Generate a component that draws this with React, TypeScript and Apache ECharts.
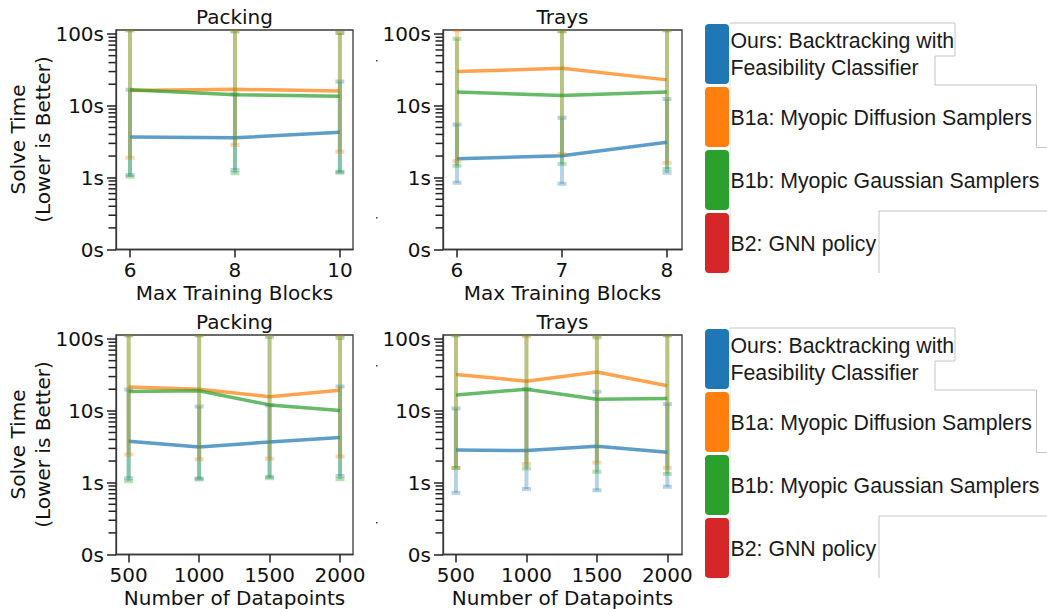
import React, { useEffect, useRef } from "react";
import * as echarts from "echarts";

// ---------- data ----------
const methodNames = [
  "Ours: Backtracking with\nFeasibility Classifier",
  "B1a: Myopic Diffusion Samplers",
  "B1b: Myopic Gaussian Samplers",
  "B2: GNN policy",
];
const methodColors = ["#1f77b4", "#ff7f0e", "#2ca02c", "#d62728"];

const blocksPacking = [6, 8, 10];
const blocksTrays = [6, 7, 8];
const datapoints = [500, 1000, 1500, 2000];

const yTickLabels = ["0s", "1s", "10s", "100s"];

// Packing vs Max Training Blocks
const packBlocksOurs = [3.68, 3.6, 4.28];
const packBlocksOursLow = [1.09, 1.28, 1.21];
const packBlocksOursHigh = [16.7, 14.5, 21.8];
const packBlocksB1a = [16.3, 17.0, 16.1];
const packBlocksB1aLow = [1.9, 2.85, 2.3];
const packBlocksB1aHigh = [115, 111, 103];
const packBlocksB1b = [16.7, 14.3, 13.6];
const packBlocksB1bLow = [1.03, 1.15, 1.17];
const packBlocksB1bHigh = [112, 108, 103];

// Trays vs Max Training Blocks
const traysBlocksOurs = [1.84, 2.02, 3.11];
const traysBlocksOursLow = [0.93, 0.915, 1.17];
const traysBlocksOursHigh = [5.5, 6.85, 12.5];
const traysBlocksB1a = [30.0, 33.4, 23.0];
const traysBlocksB1aLow = [1.71, 2.13, 1.6];
const traysBlocksB1aHigh = [113, 108, 115];
const traysBlocksB1b = [15.6, 13.9, 15.6];
const traysBlocksB1bLow = [1.47, 1.55, 1.32];
const traysBlocksB1bHigh = [85.7, 110, 112];

// Packing vs Number of Datapoints
const packDataOurs = [3.77, 3.15, 3.69, 4.25];
const packDataOursLow = [1.15, 1.14, 1.21, 1.24];
const packDataOursHigh = [19.8, 11.5, 12, 21.9];
const packDataB1a = [21.4, 20.0, 15.7, 19.4];
const packDataB1aLow = [2.46, 2.12, 2.16, 2.31];
const packDataB1aHigh = [115, 115, 115, 111];
const packDataB1b = [18.6, 19.0, 12.1, 10.1];
const packDataB1bLow = [1.05, 1.11, 1.15, 1.12];
const packDataB1bHigh = [112, 112, 107, 103];

// Trays vs Number of Datapoints
const traysDataOurs = [2.86, 2.8, 3.21, 2.65];
const traysDataOursLow = [0.86, 0.912, 0.893, 0.944];
const traysDataOursHigh = [10.8, 20, 18.4, 12.5];
const traysDataB1a = [32.1, 25.9, 34.7, 22.3];
const traysDataB1aLow = [1.6, 1.82, 1.9, 1.6];
const traysDataB1aHigh = [115, 108, 110, 115];
const traysDataB1b = [16.6, 20.0, 14.5, 14.9];
const traysDataB1bLow = [1.6, 1.57, 1.42, 1.32];
const traysDataB1bHigh = [112, 115, 105, 112];

// ---------- helpers ----------
const FONT = "DejaVu Sans";
const LEGEND_FONT = "Liberation Sans";
const YMAX = 3.056;
const symlog = (v: number) => (v <= 1 ? v : 1 + Math.log10(v));
const yMajor = [0, 1, 2, 3];
const yMinor: number[] = [];
for (let d = 0; d < 3; d++) for (let k = 2; k <= 9; k++) yMinor.push(d + Math.log10(k));

const rgba = (hex: string, a: number) => {
  const n = parseInt(hex.slice(1), 16);
  return `rgba(${(n >> 16) & 255},${(n >> 8) & 255},${n & 255},${a})`;
};

type S = { mean: number[]; low: number[]; high: number[] };
const panels = [
  {
    title: "Packing", xName: "Max Training Blocks", xs: blocksPacking, xMin: 5.733, xMax: 10.25,
    box: { left: 116, top: 30, width: 237, height: 219.5 }, yTitle: true,
    series: [
      { mean: packBlocksOurs, low: packBlocksOursLow, high: packBlocksOursHigh },
      { mean: packBlocksB1a, low: packBlocksB1aLow, high: packBlocksB1aHigh },
      { mean: packBlocksB1b, low: packBlocksB1bLow, high: packBlocksB1bHigh },
    ] as S[],
  },
  {
    title: "Trays", xName: "Max Training Blocks", xs: blocksTrays, xMin: 5.867, xMax: 8.143,
    box: { left: 443, top: 30, width: 239, height: 219.5 }, yTitle: false,
    series: [
      { mean: traysBlocksOurs, low: traysBlocksOursLow, high: traysBlocksOursHigh },
      { mean: traysBlocksB1a, low: traysBlocksB1aLow, high: traysBlocksB1aHigh },
      { mean: traysBlocksB1b, low: traysBlocksB1bLow, high: traysBlocksB1bHigh },
    ] as S[],
  },
  {
    title: "Packing", xName: "Number of Datapoints", xs: datapoints, xMin: 410, xMax: 2092,
    box: { left: 116, top: 335, width: 237, height: 219.5 }, yTitle: true,
    series: [
      { mean: packDataOurs, low: packDataOursLow, high: packDataOursHigh },
      { mean: packDataB1a, low: packDataB1aLow, high: packDataB1aHigh },
      { mean: packDataB1b, low: packDataB1bLow, high: packDataB1bHigh },
    ] as S[],
  },
  {
    title: "Trays", xName: "Number of Datapoints", xs: datapoints, xMin: 408, xMax: 2104,
    box: { left: 443, top: 335, width: 239, height: 219.5 }, yTitle: false,
    series: [
      { mean: traysDataOurs, low: traysDataOursLow, high: traysDataOursHigh },
      { mean: traysDataB1a, low: traysDataB1aLow, high: traysDataB1aHigh },
      { mean: traysDataB1b, low: traysDataB1bLow, high: traysDataB1bHigh },
    ] as S[],
  },
];

function buildGraphic(): any[] {
  const graphic: any[] = [];
  panels.forEach((p) => {
    graphic.push({
      type: "text",
      x: p.box.left + p.box.width / 2,
      y: p.box.top - 13,
      style: { text: p.title, font: `20px ${FONT}`, fill: "#111", align: "center", verticalAlign: "middle" },
    });
    if (p.yTitle) {
      graphic.push({
        type: "text",
        x: 30.5,
        y: p.box.top + 109.5,
        rotation: Math.PI / 2,
        style: {
          text: "Solve Time\n(Lower is Better)",
          font: `20px ${FONT}`,
          lineHeight: 25,
          fill: "#111",
          align: "center",
          verticalAlign: "middle",
        },
      });
    }
    // minor ticks of the symlog y axis (axis decoration, same linear map as the axis)
    yMinor.forEach((v) => {
      const y = p.box.top + p.box.height * (1 - v / YMAX);
      graphic.push({
        type: "line",
        shape: { x1: p.box.left - 7.5, y1: y, x2: p.box.left, y2: y },
        style: { stroke: "#222", lineWidth: 1.5 },
      });
    });
  });
  [61, 218, 366, 523].forEach((y) => {
    graphic.push({ type: "rect", shape: { x: 376, y: y - 1, width: 1.6, height: 1.6 }, style: { fill: "#444" } });
  });

  [0, 305].forEach((oy) => {
    const boxTop = [24, 87, 150, 213];
    methodNames.forEach((name, k) => {
      graphic.push({
        type: "rect",
        shape: { x: 705, y: boxTop[k] + oy, width: 24, height: 60, r: 4 },
        style: { fill: methodColors[k] },
      });
      graphic.push({
        type: "text",
        x: 730.5,
        y: boxTop[k] + oy + 30.5,
        style: {
          text: name,
          font: `21.3px ${LEGEND_FONT}`,
          lineHeight: 27,
          fill: "#1a1a1a",
          align: "left",
          verticalAlign: "middle",
        },
      });
    });
    graphic.push({
      type: "polyline",
      shape: { points: [[730, 23 + oy], [730, 273 + oy]] },
      style: { stroke: "#e4e4e4", lineWidth: 1, fill: null },
    });
    graphic.push({
      type: "polyline",
      shape: {
        points: [
          [730, 23 + oy], [955, 23 + oy], [955, 56 + oy], [935, 56 + oy], [935, 85 + oy],
          [1036.5, 85 + oy], [1036.5, 147.5 + oy], [1047, 147.5 + oy],
        ],
      },
      style: { stroke: "#c4c4c4", lineWidth: 1, fill: null },
    });
    graphic.push({
      type: "polyline",
      shape: { points: [[1047, 211 + oy], [879, 211 + oy], [879, 273 + oy]] },
      style: { stroke: "#c4c4c4", lineWidth: 1, fill: null },
    });
  });
  return graphic;
}

function buildOption() {
  const grid = panels.map((p) => ({
    ...p.box,
    show: true,
    borderColor: "#3a3a3a",
    borderWidth: 1.3,
    containLabel: false,
  }));

  const xAxis = panels.map((p, i) => ({
    type: "value",
    gridIndex: i,
    min: p.xMin,
    max: p.xMax,
    name: p.xName,
    nameLocation: "middle",
    nameGap: 33,
    nameTextStyle: { fontSize: 20, color: "#111", fontFamily: FONT },
    axisLine: { show: true, onZero: false, lineStyle: { color: "#3a3a3a", width: 1.3 } },
    axisTick: { show: true, customValues: p.xs, length: 8, lineStyle: { color: "#222", width: 1.5 } },
    axisLabel: {
      customValues: p.xs,
      fontSize: 20,
      color: "#111",
      margin: 10,
      fontFamily: FONT,
      formatter: (v: number) => String(v),
    },
    splitLine: { show: false },
  }));

  const yAxis = panels.map((p, i) => ({
    type: "value",
    gridIndex: i,
    position: "left",
    min: 0,
    max: YMAX,
    axisLine: { show: true, onZero: false, lineStyle: { color: "#3a3a3a", width: 1.3 } },
    axisTick: { show: true, customValues: yMajor, length: 9, lineStyle: { color: "#222", width: 1.5 } },
    axisLabel: {
      customValues: yMajor,
      fontSize: 20,
      color: "#111",
      margin: 12,
      fontFamily: FONT,
      formatter: (v: number) => yTickLabels[Math.round(v)],
    },
    splitLine: { show: false },
  }));

  const series: any[] = [];
  panels.forEach((p, i) => {
    p.series.forEach((s, m) => {
      const color = methodColors[m];
      series.push({
        type: "line",
        name: methodNames[m],
        xAxisIndex: i,
        yAxisIndex: i,
        data: p.xs.map((x, j) => [x, symlog(s.mean[j])]),
        symbol: "none",
        lineStyle: { color, width: 3.5, opacity: 0.72 },
        z: 2 + m * 2,
        silent: true,
      });
      series.push({
        type: "custom",
        name: methodNames[m] + " err",
        xAxisIndex: i,
        yAxisIndex: i,
        clip: true,
        z: 3 + m * 2,
        silent: true,
        encode: { x: 0, y: [1, 2] },
        data: p.xs.map((x, j) => [x, symlog(s.low[j]), symlog(s.high[j])]),
        renderItem: (params: any, api: any) => {
          const x = api.value(0);
          const lo = api.coord([x, api.value(1)]);
          const hi = api.coord([x, api.value(2)]);
          const c = rgba(color, 0.33);
          const st = { stroke: c, lineWidth: 4, fill: null };
          return {
            type: "group",
            children: [
              { type: "line", shape: { x1: lo[0], y1: lo[1], x2: hi[0], y2: hi[1] }, style: st },
              { type: "line", shape: { x1: lo[0] - 4.5, y1: lo[1], x2: lo[0] + 4.5, y2: lo[1] }, style: st },
              { type: "line", shape: { x1: hi[0] - 4.5, y1: hi[1], x2: hi[0] + 4.5, y2: hi[1] }, style: st },
            ],
          };
        },
      });
    });
  });

  return {
    animation: false,
    grid,
    xAxis,
    yAxis,
    series,
    graphic: buildGraphic(),
  };
}

export default function App() {
  const ref = useRef<HTMLDivElement>(null);
  useEffect(() => {
    document.body.style.margin = "0";
    const chart = echarts.init(ref.current!, undefined, { renderer: "svg" });
    chart.setOption(buildOption() as any);
    return () => chart.dispose();
  }, []);
  return <div ref={ref} style={{ width: 1047, height: 609 }} />;
}
